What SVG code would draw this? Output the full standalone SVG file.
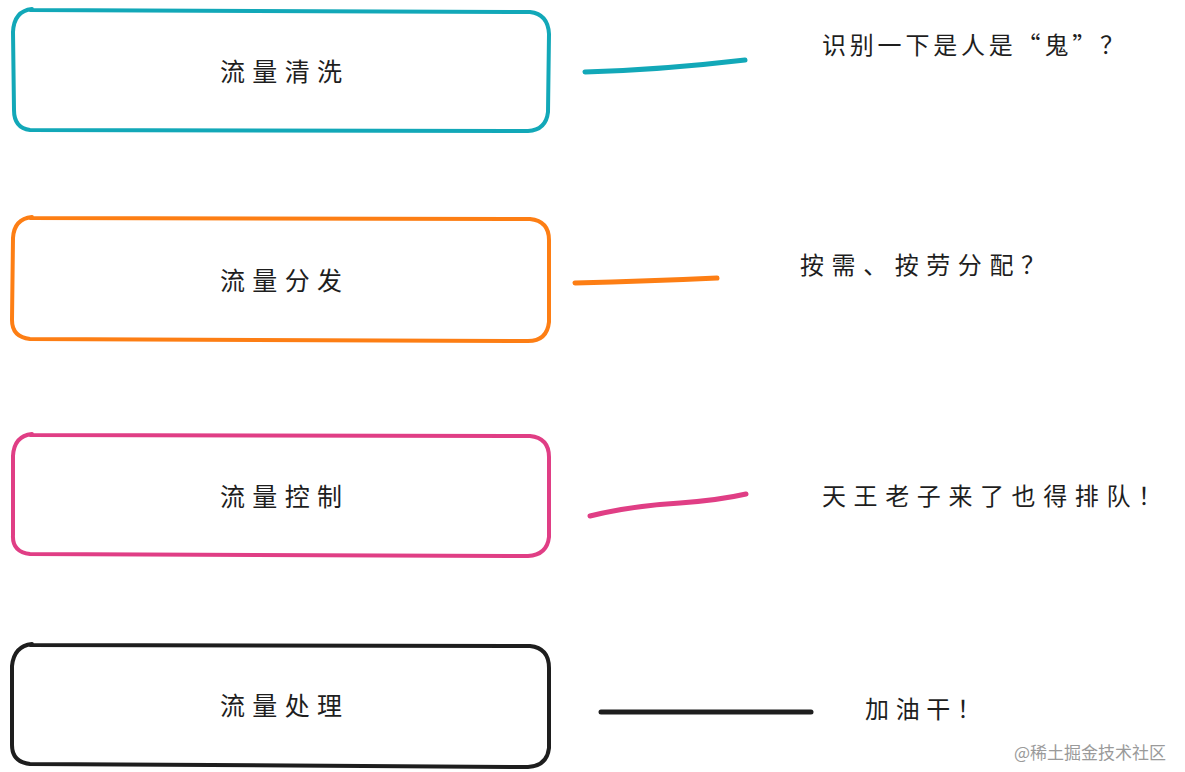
<svg xmlns="http://www.w3.org/2000/svg" width="1185" height="772" viewBox="0 0 1185 772">
<style>
.box{fill:none;stroke-width:4;stroke-linecap:round;stroke-linejoin:round}
.ln{fill:none;stroke-width:5;stroke-linecap:round}
.lbl{font-family:"Noto Sans CJK SC",sans-serif;font-size:25px;fill:#1e1e1e}
.note{font-family:"Noto Sans CJK SC",sans-serif;font-size:24px;fill:#1e1e1e}
.wm{font-family:"Noto Sans CJK SC",sans-serif;font-size:17px;fill:#9a9a9a}
</style>
<rect width="1185" height="772" fill="#ffffff"/>
<g id="node-qingxi">
<path class="box" stroke="#12a8b8" d="M30 10 L530 12 Q548 14 549 34 L548 112 Q546 130 528 131 L30 130 Q14 128 14 110 L13 32 Q14 11 32 9"/>
<text class="lbl" x="220" y="81" textLength="122" lengthAdjust="spacing">流量清洗</text>
</g>
<g id="node-fenfa">
<path class="box" stroke="#fd7e14" d="M30 218 L530 219 Q549 221 549 240 L549 322 Q547 341 528 341 L30 339 Q12 337 12 320 L13 238 Q14 219 32 217"/>
<text class="lbl" x="220" y="290" textLength="122" lengthAdjust="spacing">流量分发</text>
</g>
<g id="node-kongzhi">
<path class="box" stroke="#e03e85" d="M30 435 L530 436 Q549 438 549 457 L549 537 Q547 555 528 556 L30 554 Q12 552 13 535 L13 456 Q14 436 32 434"/>
<text class="lbl" x="220" y="506" textLength="122" lengthAdjust="spacing">流量控制</text>
</g>
<g id="node-chuli">
<path class="box" stroke="#1e1e1e" d="M30 645 L530 646 Q549 648 549 668 L549 748 Q547 766 528 767 L30 764 Q12 762 12 745 L12 666 Q14 646 32 644"/>
<text class="lbl" x="220" y="715" textLength="122" lengthAdjust="spacing">流量处理</text>
</g>
<g id="connectors">
<path class="ln" stroke="#12a8b8" d="M585 72 Q660 70 745 60"/>
<path class="ln" stroke="#fd7e14" d="M575 283 Q650 281 717 278"/>
<path class="ln" stroke="#e03e85" d="M590 516 Q630 506 680 503 Q720 500 746 494"/>
<path class="ln" stroke="#1e1e1e" d="M601 712 L811 712"/>
</g>
<g id="notes">
<text class="note" x="822" y="54" textLength="302" lengthAdjust="spacing">识别一下是人是“鬼”？</text>
<text class="note" x="800" y="274" textLength="245" lengthAdjust="spacing">按需、按劳分配？</text>
<text class="note" x="822" y="505" textLength="340" lengthAdjust="spacing">天王老子来了也得排队！</text>
<text class="note" x="865" y="718" textLength="116" lengthAdjust="spacing">加油干！</text>
<text class="wm" x="1014" y="759">@稀土掘金技术社区</text>
</g>
</svg>
